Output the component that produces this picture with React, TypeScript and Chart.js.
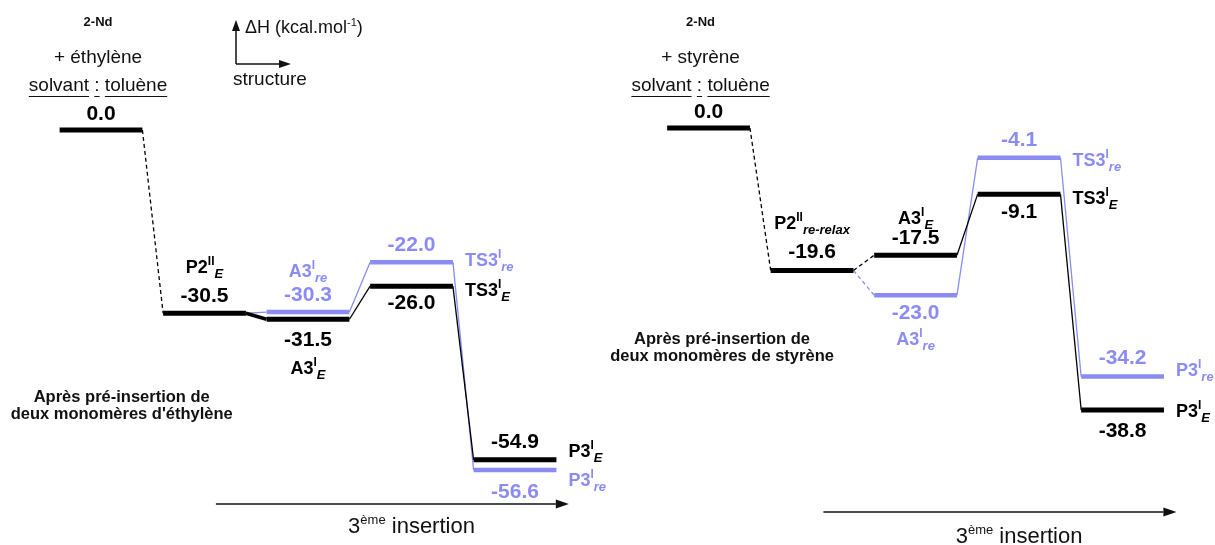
import React, { useEffect, useRef } from "react";
import { Chart, registerables } from "chart.js";

Chart.register(...registerables);

// ---------------- data ----------------
const steps = [0, 1, 2, 3, 4];
const stepNames = ["2-Nd + monomère", "P2", "A3", "TS3", "P3"];

// ΔH (kcal/mol), pathway E (black) and re (blue)
const ethyleneE: (number | null)[] = [0.0, -30.5, -31.5, -26.0, -54.9];
const ethyleneRe: (number | null)[] = [null, null, -30.3, -22.0, -56.6];
const styreneE: (number | null)[] = [0.0, -19.6, -17.5, -9.1, -38.8];
const styreneRe: (number | null)[] = [null, null, -23.0, -4.1, -34.2];

// state names: [base, superscript, subscript]
type Nm = [string, string, string] | null;
const ethyleneENames: Nm[] = [null, ["P2", "II", "E"], ["A3", "I", "E"], ["TS3", "I", "E"], ["P3", "I", "E"]];
const ethyleneReNames: Nm[] = [null, null, ["A3", "I", "re"], ["TS3", "I", "re"], ["P3", "I", "re"]];
const styreneENames: Nm[] = [null, ["P2", "II", "re-relax"], ["A3", "I", "E"], ["TS3", "I", "E"], ["P3", "I", "E"]];
const styreneReNames: Nm[] = [null, null, ["A3", "I", "re"], ["TS3", "I", "re"], ["P3", "I", "re"]];

// ---------------- styles / layout ----------------
const BLACK = "#000000";
const BLUE = "#8b8cf3";
const FONT = '"Liberation Sans", Arial, Helvetica, sans-serif';
const HALF = 0.4;

type Place = { v: number; n?: "above" | "below" | "right"; nd?: number } | null;
const placeEthE: Place[] = [{ v: -16 }, { v: -17, n: "above", nd: -47 }, { v: 21, n: "below", nd: 48 }, { v: 17, n: "right", nd: 3 }, { v: -18, n: "right", nd: -9 }];
const placeEthRe: Place[] = [null, null, { v: -17, n: "above", nd: -42 }, { v: -17, n: "right", nd: -3 }, { v: 22, n: "right", nd: 9 }];
const placeStyE: Place[] = [{ v: -16 }, { v: -18, n: "above", nd: -48 }, { v: -17, n: "above", nd: -38 }, { v: 18, n: "right", nd: 3 }, { v: 21, n: "right", nd: 0 }];
const placeStyRe: Place[] = [null, null, { v: 18, n: "below", nd: 43 }, { v: -18, n: "right", nd: 2 }, { v: -18, n: "right", nd: -7 }];

const panels = [
  {
    offset: 0, axis: "y", E: ethyleneE, Re: ethyleneRe, nE: ethyleneENames, nRe: ethyleneReNames,
    pE: placeEthE, pRe: placeEthRe, monomer: "+ éthylène", headerDx: -3,
    note: ["Après pré-insertion de", "deux monomères d'éthylène"], noteX: 0.2, noteY: [397, 414],
    dash12: false, thick12: true, arrowY: 504, insY: 525, axisLegend: true,
  },
  {
    offset: 5.87, axis: "yR", E: styreneE, Re: styreneRe, nE: styreneENames, nRe: styreneReNames,
    pE: placeStyE, pRe: placeStyRe, monomer: "+ styrène", headerDx: -8,
    note: ["Après pré-insertion de", "deux monomères de styrène"], noteX: 0.13, noteY: [339, 356],
    dash12: true, thick12: false, arrowY: 512, insY: 535, axisLegend: false,
  },
];

type Part = { t: string; size: number; bold?: boolean; italic?: boolean; dy?: number };
const fontOf = (p: Part) => `${p.italic ? "italic " : ""}${p.bold ? "bold " : ""}${p.size}px ${FONT}`;

function drawRich(ctx: CanvasRenderingContext2D, parts: Part[], x: number, y: number, align: "left" | "center") {
  let w = 0;
  for (const p of parts) { ctx.font = fontOf(p); w += ctx.measureText(p.t).width; }
  let cx = align === "center" ? x - w / 2 : x;
  ctx.textAlign = "left";
  ctx.textBaseline = "alphabetic";
  for (const p of parts) {
    ctx.font = fontOf(p);
    ctx.fillText(p.t, cx, y + (p.dy || 0));
    cx += ctx.measureText(p.t).width;
  }
}

function nameParts(nm: [string, string, string]): Part[] {
  return [
    { t: nm[0], size: 18, bold: true },
    { t: nm[1], size: 12, bold: true, dy: -8 },
    { t: nm[2], size: 13, bold: true, italic: true, dy: 5 },
  ];
}

function arrow(ctx: CanvasRenderingContext2D, x1: number, y1: number, x2: number, y2: number, lw: number, hl: number, hw: number) {
  const a = Math.atan2(y2 - y1, x2 - x1);
  const bx = x2 - hl * Math.cos(a), by = y2 - hl * Math.sin(a);
  ctx.strokeStyle = "#111";
  ctx.fillStyle = "#111";
  ctx.lineWidth = lw;
  ctx.setLineDash([]);
  ctx.beginPath(); ctx.moveTo(x1, y1); ctx.lineTo(bx, by); ctx.stroke();
  ctx.beginPath();
  ctx.moveTo(x2, y2);
  ctx.lineTo(bx + hw * Math.sin(a), by - hw * Math.cos(a));
  ctx.lineTo(bx - hw * Math.sin(a), by + hw * Math.cos(a));
  ctx.closePath(); ctx.fill();
}

function buildDatasets() {
  const ds: any[] = [];
  panels.forEach((p) => {
    const paths = [
      { vals: p.E, color: BLACK, order: 1, w: 5, black: true },
      { vals: p.Re, color: BLUE, order: 2, w: 4.5, black: false },
    ];
    paths.forEach((path) => {
      path.vals.forEach((v, i) => {
        if (v == null) return;
        const x = p.offset + steps[i];
        ds.push({
          label: `${stepNames[i]}`,
          data: [{ x: x - HALF, y: v }, { x: x + HALF, y: v }],
          borderColor: path.color, backgroundColor: path.color, borderWidth: path.w,
          showLine: true, pointRadius: 0, borderCapStyle: "butt", yAxisID: p.axis, order: path.order,
        });
        if (i > 0) {
          const prev = path.vals[i - 1] != null ? path.vals[i - 1] : p.E[i - 1];
          if (prev == null) return;
          const dashed = i === 1 || (i === 2 && p.dash12);
          const thick = i === 2 && p.thick12 && path.black;
          ds.push({
            label: `${stepNames[i - 1]}→${stepNames[i]}`,
            data: [{ x: p.offset + steps[i - 1] + HALF, y: prev }, { x: x - HALF, y: v }],
            borderColor: path.color, borderWidth: thick ? 3.5 : 1.3,
            borderDash: dashed ? [4, 3] : [],
            showLine: true, pointRadius: 0, yAxisID: p.axis, order: path.order + 2,
          });
        }
      });
    });
  });
  return ds;
}

const textPlugin = {
  id: "energyText",
  afterDatasetsDraw(chart: any) {
    const ctx: CanvasRenderingContext2D = chart.ctx;
    const xs = chart.scales.x;
    ctx.save();
    panels.forEach((p) => {
      const ys = chart.scales[p.axis];
      const px = (s: number) => xs.getPixelForValue(p.offset + s);
      const groups: [any[], Nm[], Place[], string][] = [
        [p.E, p.nE, p.pE, BLACK],
        [p.Re, p.nRe, p.pRe, BLUE],
      ];
      groups.forEach(([vals, names, places, color]) => {
        vals.forEach((v: number | null, i: number) => {
          if (v == null) return;
          const pl = places[i];
          if (!pl) return;
          const cx = px(steps[i]);
          const cy = ys.getPixelForValue(v);
          ctx.fillStyle = color;
          ctx.font = `bold 21px ${FONT}`;
          ctx.textAlign = "center";
          ctx.textBaseline = "middle";
          ctx.fillText(v.toFixed(1), cx, cy + pl.v);
          const nm = names[i];
          if (nm && pl.n) {
            const parts = nameParts(nm);
            if (pl.n === "right") drawRich(ctx, parts, px(steps[i] + HALF) + 12, cy + (pl.nd || 0) + 6.5, "left");
            else drawRich(ctx, parts, cx, cy + (pl.nd || 0) + 6.5, "center");
          }
        });
      });

      // headers
      const hx = px(steps[0]) + p.headerDx;
      ctx.fillStyle = "#111";
      ctx.textAlign = "center";
      ctx.textBaseline = "middle";
      ctx.font = `bold 13px ${FONT}`;
      ctx.fillText("2-Nd", hx, 22);
      ctx.font = `19px ${FONT}`;
      ctx.fillText(p.monomer, hx, 58);
      const solv = "solvant : toluène";
      ctx.fillText(solv, hx, 86);
      const tw = ctx.measureText(solv).width;
      const left = hx - tw / 2;
      ctx.strokeStyle = "#111";
      ctx.lineWidth = 1;
      ctx.setLineDash([]);
      let off = 0;
      solv.split(" ").forEach((word, k, arr) => {
        const ww = ctx.measureText(word).width;
        ctx.beginPath();
        ctx.moveTo(left + off, 96.5);
        ctx.lineTo(left + off + ww, 96.5);
        ctx.stroke();
        off += ww + (k < arr.length - 1 ? ctx.measureText(" ").width : 0);
      });

      // notes
      ctx.font = `bold 16.5px ${FONT}`;
      ctx.fillText(p.note[0], px(p.noteX), p.noteY[0]);
      ctx.fillText(p.note[1], px(p.noteX), p.noteY[1]);

      // bottom arrow
      arrow(ctx, px(1.11), p.arrowY, px(4.52), p.arrowY, 1.5, 13, 4.5);
      ctx.fillStyle = "#111";
      drawRich(ctx, [
        { t: "3", size: 22 },
        { t: "ème", size: 13, dy: -9 },
        { t: " insertion", size: 22 },
      ], px(3.0), p.insY + 8, "center");

      // axis legend
      if (p.axisLegend) {
        arrow(ctx, 236, 64, 236, 20, 1.5, 11, 4);
        arrow(ctx, 236, 64, 291, 64, 1.5, 12, 4);
        ctx.fillStyle = "#111";
        drawRich(ctx, [
          { t: "ΔH (kcal.mol", size: 18 },
          { t: "-1", size: 11, dy: -7 },
          { t: ")", size: 18 },
        ], 245, 33, "left");
        ctx.font = `19px ${FONT}`;
        ctx.textAlign = "left";
        ctx.textBaseline = "middle";
        ctx.fillText("structure", 233, 80);
      }
    });
    ctx.restore();
  },
};

export default function App() {
  const ref = useRef<HTMLCanvasElement | null>(null);
  useEffect(() => {
    if (!ref.current) return;
    const chart = new Chart(ref.current, {
      type: "scatter",
      data: { datasets: buildDatasets() },
      options: {
        animation: false,
        responsive: false,
        devicePixelRatio: 1,
        events: [],
        layout: { padding: 0 },
        plugins: { legend: { display: false }, tooltip: { enabled: false }, title: { display: false } },
        scales: {
          x: { type: "linear", display: false, min: -0.976, max: 10.763 },
          y: { type: "linear", display: false, min: -69.08, max: 21.64 },
          yR: { type: "linear", display: false, min: -57.37, max: 17.61 },
        },
      } as any,
      plugins: [textPlugin as any],
    });
    return () => chart.destroy();
  }, []);
  return (
    <div style={{ position: "absolute", left: 0, top: 0, width: 1215, height: 545, background: "#fff" }}>
      <canvas ref={ref} width={1215} height={545} style={{ display: "block" }} />
    </div>
  );
}
